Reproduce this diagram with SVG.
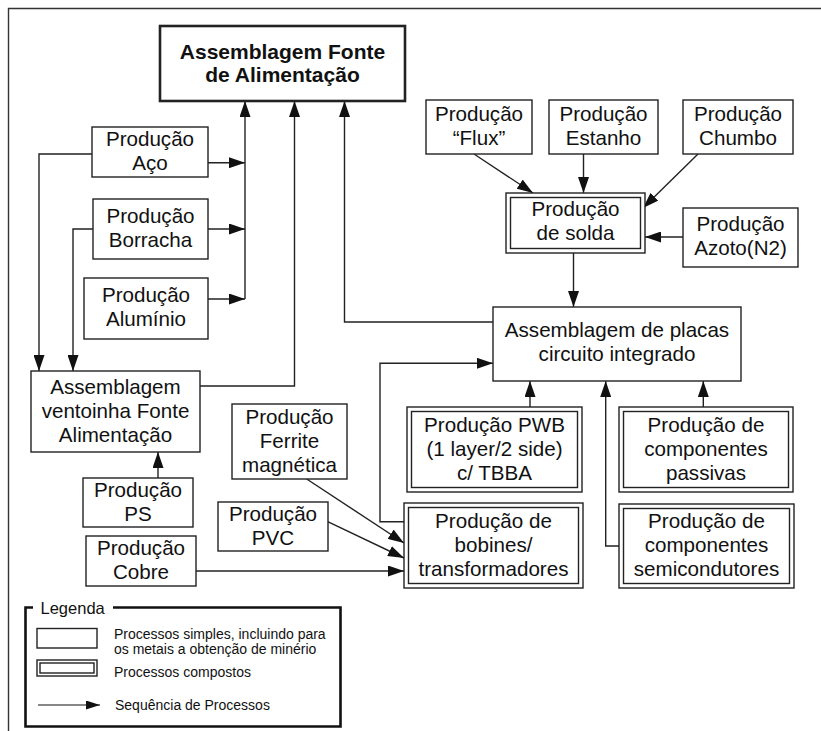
<svg xmlns="http://www.w3.org/2000/svg" width="821" height="731" viewBox="0 0 821 731">
  <defs>
    <marker id="ah" markerWidth="16" markerHeight="11" refX="16" refY="5.5" orient="auto" markerUnits="userSpaceOnUse">
      <path d="M0,0 L16,5.5 L0,11 z" fill="#111"/>
    </marker>
    <marker id="ahs" markerWidth="14" markerHeight="9" refX="14" refY="4.5" orient="auto" markerUnits="userSpaceOnUse">
      <path d="M0,0 L14,4.5 L0,9 z" fill="#111"/>
    </marker>
  </defs>
  <style>
    rect { fill: #fff; stroke: #222; stroke-width: 1.4; }
    rect.thick { stroke-width: 2.6; }
    text { font-family: "Liberation Sans", Arial, sans-serif; font-size: 20.6px; fill: #111; text-anchor: middle; }
    text.bold { font-weight: bold; font-size: 21px; }
    text.leg { font-size: 14px; text-anchor: start; }
    text.legtitle { font-size: 16.5px; text-anchor: start; }
    .conn path, .conn line { fill: none; stroke: #222; stroke-width: 1.4; }
    .frame { fill: none; stroke: #333; stroke-width: 1.4; }
  </style>

  <!-- page frame -->
  <path class="frame" d="M8.5,731 V8.5 H821"/>

  <!-- connectors -->
  <g id="connectors" class="conn">
    <line x1="208" y1="162.7" x2="245" y2="162.7" marker-end="url(#ah)"/>
    <line x1="208" y1="229" x2="245" y2="229" marker-end="url(#ah)"/>
    <line x1="208" y1="299" x2="245" y2="299" marker-end="url(#ah)"/>
    <line x1="245" y1="299" x2="245" y2="101" marker-end="url(#ah)"/>
    <path d="M200,386 H294.5 V101" marker-end="url(#ah)"/>
    <path d="M493,322 H344.5 V101" marker-end="url(#ah)"/>
    <path d="M92,154 H39 V371" marker-end="url(#ah)"/>
    <path d="M93,229 H73 V371" marker-end="url(#ah)"/>
    <line x1="158" y1="478" x2="158" y2="452" marker-end="url(#ah)"/>
    <line x1="474" y1="154" x2="533" y2="193" marker-end="url(#ah)"/>
    <line x1="583.5" y1="154" x2="583.5" y2="193" marker-end="url(#ah)"/>
    <line x1="698" y1="154" x2="643" y2="208" marker-end="url(#ah)"/>
    <line x1="683" y1="237" x2="645" y2="237" marker-end="url(#ah)"/>
    <line x1="573.5" y1="253" x2="573.5" y2="307" marker-end="url(#ah)"/>
    <path d="M404,521.7 H380 V363.3 H493" marker-end="url(#ah)"/>
    <line x1="530" y1="407" x2="530" y2="381" marker-end="url(#ah)"/>
    <path d="M619,546 H605.7 V381" marker-end="url(#ah)"/>
    <line x1="703.3" y1="407" x2="703.3" y2="381" marker-end="url(#ah)"/>
    <line x1="306.7" y1="479" x2="404" y2="543" marker-end="url(#ah)"/>
    <line x1="327.7" y1="521.7" x2="404" y2="558" marker-end="url(#ah)"/>
    <line x1="196" y1="571" x2="404" y2="571" marker-end="url(#ah)"/>
  </g>

  <!-- nodes -->
  <g id="fonte">
    <rect class="thick" x="160" y="26" width="245" height="75"/>
    <text class="bold" x="282.5" y="59">Assemblagem Fonte</text>
    <text class="bold" x="282.5" y="82">de Alimentação</text>
  </g>
  <g id="aco">
    <rect x="92" y="127" width="116" height="50"/>
    <text x="150" y="146">Produção</text>
    <text x="150" y="170">Aço</text>
  </g>
  <g id="borracha">
    <rect x="93" y="199" width="115" height="60"/>
    <text x="150.5" y="223">Produção</text>
    <text x="150.5" y="247">Borracha</text>
  </g>
  <g id="aluminio">
    <rect x="84" y="278" width="124" height="61"/>
    <text x="146" y="302">Produção</text>
    <text x="146" y="326">Alumínio</text>
  </g>
  <g id="ventoinha">
    <rect x="31" y="371" width="169" height="81"/>
    <text x="115.5" y="394">Assemblagem</text>
    <text x="115.5" y="418">ventoinha Fonte</text>
    <text x="115.5" y="442">Alimentação</text>
  </g>
  <g id="ps">
    <rect x="83" y="478" width="110" height="49"/>
    <text x="138" y="497">Produção</text>
    <text x="138" y="521">PS</text>
  </g>
  <g id="cobre">
    <rect x="86" y="536" width="110" height="50"/>
    <text x="141" y="555">Produção</text>
    <text x="141" y="579">Cobre</text>
  </g>
  <g id="pvc">
    <rect x="218" y="502" width="110" height="49"/>
    <text x="273" y="521">Produção</text>
    <text x="273" y="545">PVC</text>
  </g>
  <g id="ferrite">
    <rect x="232" y="404" width="115" height="75"/>
    <text x="289.5" y="424">Produção</text>
    <text x="289.5" y="448">Ferrite</text>
    <text x="289.5" y="472">magnética</text>
  </g>
  <g id="flux">
    <rect x="426" y="100" width="106" height="54"/>
    <text x="479" y="121">Produção</text>
    <text x="479" y="145">“Flux”</text>
  </g>
  <g id="estanho">
    <rect x="549" y="100" width="109" height="54"/>
    <text x="603.5" y="121">Produção</text>
    <text x="603.5" y="145">Estanho</text>
  </g>
  <g id="chumbo">
    <rect x="683" y="100" width="110" height="54"/>
    <text x="738" y="121">Produção</text>
    <text x="738" y="145">Chumbo</text>
  </g>
  <g id="solda">
    <rect x="506" y="193" width="139" height="60"/>
    <rect x="510.5" y="197.5" width="130" height="51"/>
    <text x="575.5" y="216">Produção</text>
    <text x="575.5" y="240">de solda</text>
  </g>
  <g id="azoto">
    <rect x="683" y="208" width="115" height="59"/>
    <text x="740.5" y="231">Produção</text>
    <text x="740.5" y="255">Azoto(N2)</text>
  </g>
  <g id="placas">
    <rect x="493" y="307" width="248" height="74"/>
    <text x="617" y="337">Assemblagem de placas</text>
    <text x="617" y="361">circuito integrado</text>
  </g>
  <g id="pwb">
    <rect x="407" y="407" width="175" height="85"/>
    <rect x="411.5" y="411.5" width="166" height="76"/>
    <text x="494.5" y="432">Produção PWB</text>
    <text x="494.5" y="456">(1 layer/2 side)</text>
    <text x="494.5" y="480">c/ TBBA</text>
  </g>
  <g id="bobines">
    <rect x="404" y="503" width="179" height="85"/>
    <rect x="408.5" y="507.5" width="170" height="76"/>
    <text x="493.5" y="528">Produção de</text>
    <text x="493.5" y="552">bobines/</text>
    <text x="493.5" y="576">transformadores</text>
  </g>
  <g id="passivas">
    <rect x="619" y="407" width="174" height="85"/>
    <rect x="623.5" y="411.5" width="165" height="76"/>
    <text x="706" y="432">Produção de</text>
    <text x="706" y="456">componentes</text>
    <text x="706" y="480">passivas</text>
  </g>
  <g id="semicondutores">
    <rect x="619" y="504" width="175" height="84"/>
    <rect x="623.5" y="508.5" width="166" height="75"/>
    <text x="706.5" y="528">Produção de</text>
    <text x="706.5" y="552">componentes</text>
    <text x="706.5" y="576">semicondutores</text>
  </g>

  <!-- legend -->
  <g id="legenda">
    <path d="M33,607.5 H25.5 V726.5 H340.5 V607.5 H113" fill="none" stroke="#111" stroke-width="2.6"/>
    <text class="legtitle" x="40.5" y="614">Legenda</text>
    <rect x="37" y="628.5" width="60" height="19.5" stroke-width="1.2"/>
    <text class="leg" x="114" y="639">Processos simples, incluindo para</text>
    <text class="leg" x="114" y="654">os metais a obtenção de minério</text>
    <rect x="37" y="660" width="60" height="16" stroke-width="1.2"/>
    <rect x="40" y="663" width="54" height="10" stroke-width="1.2"/>
    <text class="leg" x="114" y="677">Processos compostos</text>
    <line x1="38" y1="705" x2="100" y2="705" stroke="#111" stroke-width="1.2" marker-end="url(#ahs)"/>
    <text class="leg" x="115" y="710">Sequência de Processos</text>
  </g>
</svg>
